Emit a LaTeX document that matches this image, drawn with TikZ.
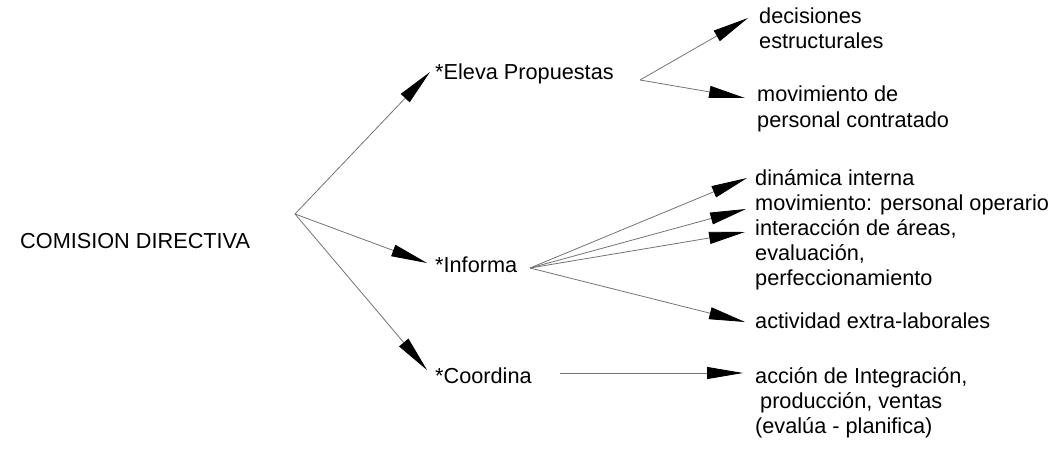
\documentclass[tikz,border=0pt]{standalone}
\usepackage{fontspec}
\setmainfont{Liberation Sans}
\usetikzlibrary{arrows.meta}

\begin{document}
\begin{tikzpicture}[x=1pt, y=-1pt,
        txt/.style={inner sep=0pt, anchor=base west, align=left, font=\fontsize{21.7}{25}\selectfont},
        flecha/.style={draw=black!55, line width=0.8pt, -{Triangle[length=36pt, width=12pt, color=black]}}]
        \useasboundingbox (0,0) rectangle (1058,452);
        % Root and first level
        \node[txt] (cd) at (20,248) {COMISION DIRECTIVA};
        \node[txt] (eleva) at (435,80) {*Eleva Propuestas};
        \node[txt] (informa) at (435,272) {*Informa};
        \node[txt] (coord) at (435,383) {*Coordina};
        % Second level (base = last line)
        \node[txt] (decis) at (759,49) {decisiones\\estructurales};
        \node[txt] (movcont) at (757,127) {movimiento de\\personal contratado};
        \node[txt] (dinam) at (755,185) {dinámica interna};
        \node[txt] (movop) at (755,210) {movimiento: personal operario};
        \node[txt] (inter) at (755,285) {interacción de áreas,\\evaluación,\\perfeccionamiento};
        \node[txt] (activ) at (755,328) {actividad extra-laborales};
        \node[txt] (accion) at (755,433) {acción de Integración,\\\hspace{5pt}producción, ventas\\(evalúa - planifica)};
        % Fork points
        \coordinate (fcd) at (295,214);
        \coordinate (fel) at (640,80);
        \coordinate (fin) at (530,268);
        \coordinate (fco) at (560,373);
        % Arrows
\draw[flecha] (fcd) -- ([xshift=-5pt,yshift=8pt]eleva.base west);
\draw[flecha] (fcd) -- ([xshift=-8pt,yshift=9pt]informa.base west);
\draw[flecha] (fcd) -- ([xshift=-8pt,yshift=13pt]coord.base west);
\draw[flecha] (fel) -- ([xshift=-11pt,yshift=31pt]decis.base west);
\draw[flecha] (fel) -- ([xshift=-12pt,yshift=29pt]movcont.base west);
\draw[flecha] (fin) -- ([xshift=-8pt,yshift=7pt]dinam.base west);
\draw[flecha] (fin) -- ([xshift=-9pt,yshift=1pt]movop.base west);
\draw[flecha] (fin) -- ([xshift=-10pt,yshift=53pt]inter.base west);
\draw[flecha] (fin) -- ([xshift=-10pt,yshift=6pt]activ.base west);
\draw[flecha] (fco) -- ([xshift=-12pt,yshift=60pt]accion.base west);
\end{tikzpicture}
\end{document}
